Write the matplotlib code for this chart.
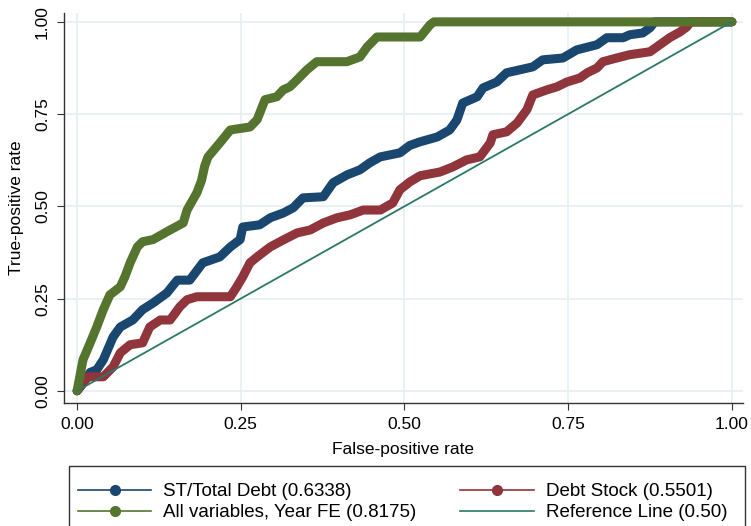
import matplotlib
matplotlib.use("Agg")
import matplotlib.pyplot as plt
from matplotlib.lines import Line2D
from matplotlib.patches import Rectangle

# ROC curves
st_x = [0, 0.02, 0.03, 0.04, 0.055, 0.066, 0.085, 0.1, 0.116, 0.137, 0.153, 0.172,
        0.192, 0.218, 0.234, 0.249, 0.253, 0.279, 0.295, 0.315, 0.33, 0.345, 0.376,
        0.391, 0.412, 0.432, 0.447, 0.463, 0.493, 0.508, 0.524, 0.55, 0.569, 0.58,
        0.589, 0.611, 0.62, 0.641, 0.656, 0.676, 0.696, 0.711, 0.742, 0.763, 0.794,
        0.809, 0.834, 0.844, 0.864, 0.875, 0.882, 1.0]
st_y = [0, 0.05, 0.057, 0.084, 0.146, 0.173, 0.192, 0.22, 0.238, 0.265, 0.3, 0.3,
        0.347, 0.363, 0.39, 0.41, 0.444, 0.45, 0.469, 0.482, 0.496, 0.523, 0.526,
        0.564, 0.585, 0.599, 0.618, 0.634, 0.645, 0.665, 0.675, 0.688, 0.707, 0.734,
        0.78, 0.797, 0.821, 0.837, 0.862, 0.87, 0.878, 0.897, 0.902, 0.924, 0.938,
        0.957, 0.957, 0.965, 0.97, 0.984, 1.0, 1.0]

stock_x = [0, 0.017, 0.04, 0.055, 0.066, 0.081, 0.1, 0.111, 0.127, 0.142, 0.157,
           0.168, 0.183, 0.234, 0.244, 0.253, 0.264, 0.275, 0.295, 0.315, 0.336,
           0.356, 0.376, 0.397, 0.417, 0.437, 0.463, 0.482, 0.493, 0.508, 0.524,
           0.554, 0.574, 0.595, 0.615, 0.631, 0.635, 0.656, 0.672, 0.687, 0.696,
           0.718, 0.733, 0.748, 0.768, 0.779, 0.794, 0.803, 0.824, 0.844, 0.875,
           0.89, 0.905, 0.921, 0.931, 0.937, 1.0]
stock_y = [0, 0.038, 0.038, 0.065, 0.103, 0.125, 0.13, 0.173, 0.192, 0.192, 0.228,
           0.247, 0.255, 0.255, 0.282, 0.309, 0.347, 0.363, 0.39, 0.409, 0.428,
           0.436, 0.455, 0.469, 0.477, 0.49, 0.49, 0.509, 0.545, 0.566, 0.583,
           0.593, 0.607, 0.626, 0.634, 0.672, 0.694, 0.702, 0.726, 0.762, 0.802,
           0.816, 0.824, 0.837, 0.848, 0.862, 0.875, 0.892, 0.902, 0.911, 0.919,
           0.938, 0.957, 0.973, 0.986, 1.0, 1.0]

all_x = [0, 0.009, 0.02, 0.03, 0.04, 0.05, 0.066, 0.073, 0.081, 0.092, 0.1, 0.116,
         0.142, 0.162, 0.168, 0.183, 0.19, 0.195, 0.2, 0.218, 0.234, 0.264, 0.275,
         0.287, 0.305, 0.315, 0.325, 0.336, 0.351, 0.366, 0.412, 0.432, 0.443,
         0.458, 0.524, 0.539, 0.545, 1.0]
all_y = [0, 0.084, 0.13, 0.173, 0.22, 0.26, 0.282, 0.309, 0.347, 0.39, 0.404, 0.41,
         0.436, 0.455, 0.49, 0.537, 0.57, 0.61, 0.634, 0.672, 0.707, 0.715, 0.735,
         0.789, 0.797, 0.816, 0.824, 0.843, 0.87, 0.892, 0.892, 0.905, 0.932,
         0.959, 0.959, 0.992, 1.0, 1.0]

ref_x = [0, 1]
ref_y = [0, 1]

labels = ["ST/Total Debt (0.6338)", "Debt Stock (0.5501)",
          "All variables, Year FE (0.8175)", "Reference Line (0.50)"]
ticks = [0, 0.25, 0.5, 0.75, 1.0]
tick_labels = ["0.00", "0.25", "0.50", "0.75", "1.00"]

BLUE = "#1a476f"
RED = "#90353b"
GREEN = "#55752f"
TEAL = "#2b7865"
W, H = 751, 526


def main():
    plt.rcParams["font.family"] = ["Liberation Sans", "DejaVu Sans"]
    fig = plt.figure(figsize=(W / 100, H / 100), dpi=100)
    ax = fig.add_axes([64 / W, 1 - 403 / H, (743 - 64) / W, (403 - 13) / H])

    curve = dict(lw=6.5, solid_capstyle="round", solid_joinstyle="round")
    ax.plot(st_x, st_y, color=BLUE, **curve)
    ax.plot(stock_x, stock_y, color=RED, **curve)
    ax.plot(all_x, all_y, color=GREEN, **curve)
    ax.plot(ref_x, ref_y, color=TEAL, lw=1.3)

    ax.set_xlim(-0.02, 1.017)
    ax.set_ylim(-0.033, 1.024)
    ax.set_xticks(ticks)
    ax.set_xticklabels(tick_labels)
    ax.set_yticks(ticks)
    ax.set_yticklabels(tick_labels, rotation=90, va="center")
    ax.grid(True, color="#e6eff2", lw=1.2)
    ax.set_axisbelow(True)
    for side in ("top", "right"):
        ax.spines[side].set_visible(False)
    for side in ("left", "bottom"):
        ax.spines[side].set_color("#333333")
        ax.spines[side].set_linewidth(1.0)
    ax.tick_params(labelsize=12.5, length=5, color="#333333", pad=5)
    ax.set_xlabel("False-positive rate", fontsize=12.5, labelpad=7)
    ax.set_ylabel("True-positive rate", fontsize=12.5, labelpad=8)

    # legend box, cut off at the bottom edge as in the reference
    fig.patches.append(Rectangle((69 / W, -0.05), (745 - 69) / W, 0.05 + 60 / H,
                                 transform=fig.transFigure, fill=False,
                                 edgecolor="#333333", lw=1.0))

    handles = [
        Line2D([], [], color=BLUE, lw=1.2, marker="o", ms=7),
        Line2D([], [], color=RED, lw=1.2, marker="o", ms=7),
        Line2D([], [], color=GREEN, lw=1.2, marker="o", ms=7),
        Line2D([], [], color=TEAL, lw=1.2),
    ]
    order = [0, 2, 1, 3]
    fig.legend([handles[i] for i in order], [labels[i] for i in order],
               loc="upper left", bbox_to_anchor=(78 / W, 1 - 483 / H),
               ncol=2, fontsize=13.5, frameon=False, numpoints=1,
               handlelength=3.9, handletextpad=0.64, columnspacing=2.35,
               labelspacing=0.22, borderpad=0, borderaxespad=0)

    fig.savefig("out.png", dpi=100)


if __name__ == "__main__":
    main()
